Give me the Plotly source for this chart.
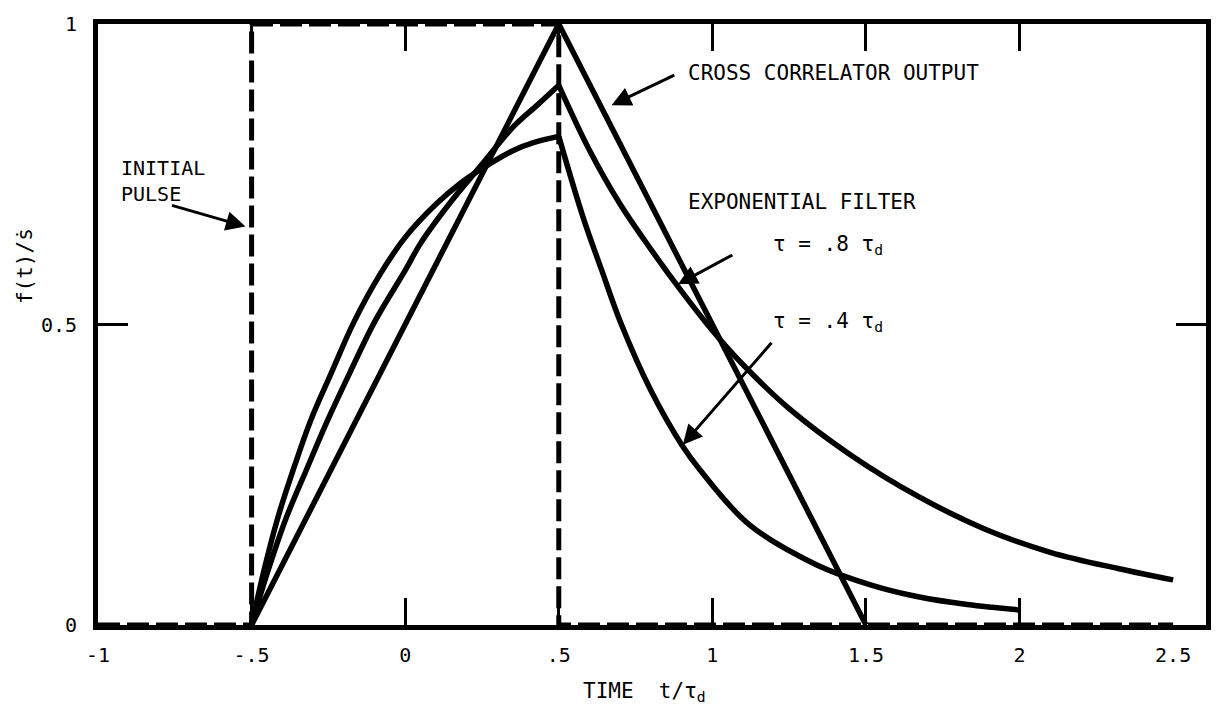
import plotly.graph_objects as go

# --- data -------------------------------------------------------------
# initial rectangular pulse (dashed)
pulse_t = [-1.0, -0.5, -0.5, 0.5, 0.5, 2.5]
pulse_v = [0.0, 0.0, 1.0, 1.0, 0.0, 0.0]

# cross correlator output (triangle)
xcorr_t = [-0.5, 0.5, 1.5]
xcorr_v = [0.0, 1.0, 0.0]

# exponential filter, tau = .8 tau_d
f08_rise_t = [-0.5, -0.45, -0.389, -0.32, -0.253, -0.18, -0.10, 0.0, 0.05, 0.15, 0.246, 0.354, 0.43, 0.5]
f08_rise_v = [0.0, 0.085, 0.176, 0.26, 0.34, 0.42, 0.504, 0.59, 0.635, 0.705, 0.764, 0.83, 0.865, 0.898]
f08_fall_t = [0.5, 0.6, 0.7, 0.8, 0.9, 1.0, 1.1, 1.25, 1.45, 1.67, 1.89, 2.1, 2.32, 2.5]
f08_fall_v = [0.898, 0.79, 0.70, 0.625, 0.555, 0.49, 0.433, 0.36, 0.283, 0.214, 0.159, 0.121, 0.094, 0.075]

# exponential filter, tau = .4 tau_d
f04_rise_t = [-0.5, -0.46, -0.416, -0.36, -0.308, -0.24, -0.167, -0.08, 0.0, 0.1, 0.18, 0.246, 0.354, 0.42, 0.5]
f04_rise_v = [0.0, 0.09, 0.176, 0.265, 0.34, 0.42, 0.504, 0.585, 0.645, 0.70, 0.735, 0.758, 0.79, 0.803, 0.813]
f04_fall_t = [0.5, 0.58, 0.64, 0.7, 0.8, 0.9, 0.96, 1.12, 1.34, 1.52, 1.67, 1.83, 2.0]
f04_fall_v = [0.813, 0.677, 0.59, 0.505, 0.39, 0.30, 0.258, 0.167, 0.10, 0.066, 0.047, 0.034, 0.025]

x_ticks = [-1, -0.5, 0, 0.5, 1, 1.5, 2, 2.5]
x_ticktext = ["-1", "-.5", "0", ".5", "1", "1.5", "2", "2.5"]
x_marks = [-0.5, 0, 0.5, 1, 1.5, 2]
y_ticks = [0, 0.5, 1]
y_ticktext = ["0", "0.5", "1"]

FONT = "DejaVu Sans Mono"
INK = "#000000"

fig = go.Figure()

fig.add_trace(go.Scatter(
    x=pulse_t, y=pulse_v, mode="lines",
    line=dict(color=INK, width=5, dash="22px,7px"),
    showlegend=False, hoverinfo="skip"))

fig.add_trace(go.Scatter(
    x=xcorr_t, y=xcorr_v, mode="lines",
    line=dict(color=INK, width=5.5),
    showlegend=False))

for tt, vv in [(f08_rise_t, f08_rise_v), (f08_fall_t, f08_fall_v),
               (f04_rise_t, f04_rise_v), (f04_fall_t, f04_fall_v)]:
    fig.add_trace(go.Scatter(
        x=tt, y=vv, mode="lines",
        line=dict(color=INK, width=5.5, shape="spline", smoothing=1.0),
        showlegend=False))

# --- labels -----------------------------------------------------------
def label(text, x, y, xref="x", yref="y", xanchor="left", yanchor="middle",
          size=21, angle=0):
    fig.add_annotation(x=x, y=y, xref=xref, yref=yref, text=text,
                       showarrow=False, xanchor=xanchor, yanchor=yanchor,
                       textangle=angle, align="left",
                       font=dict(family=FONT, size=size, color=INK))

def arrow(x_tail, y_tail, x_tip, y_tip):
    fig.add_annotation(x=x_tip, y=y_tip, ax=x_tail, ay=y_tail,
                       xref="x", yref="y", axref="x", ayref="y",
                       text="", showarrow=True, arrowhead=2,
                       arrowsize=1.3, arrowwidth=3, arrowcolor=INK)

label("CROSS CORRELATOR OUTPUT", 0.914, 0.918)
arrow(0.881, 0.916, 0.672, 0.865)

label("EXPONENTIAL FILTER", 0.914, 0.704)
label("τ = .8 τ<sub>d</sub>", 1.19, 0.632)
arrow(1.070, 0.617, 0.888, 0.567)
label("τ = .4 τ<sub>d</sub>", 1.19, 0.505)
arrow(1.197, 0.472, 0.904, 0.30)

label("INITIAL<br>PULSE", -0.933, 0.739, size=20)
arrow(-0.764, 0.699, -0.52, 0.663)

# axis titles
label("TIME  t/τ<sub>d</sub>", 0.572, -0.112, yref="paper")
label("f(t)/ṡ", -0.066, 0.597, xref="paper", xanchor="center", angle=-90)

# --- axes / frame -----------------------------------------------------
fig.update_xaxes(
    range=[-1, 2.607], tickmode="array", tickvals=x_ticks, ticktext=x_ticktext,
    ticks="inside", ticklen=0, showline=True, linewidth=5, linecolor=INK,
    mirror="ticks", showgrid=False, zeroline=False,
    minor=dict(tickmode="array", tickvals=x_marks, ticks="inside",
               ticklen=27, tickwidth=3, tickcolor=INK),
    tickfont=dict(family=FONT, size=20, color=INK), ticklabelstandoff=8)
fig.update_yaxes(
    range=[0, 1], tickmode="array", tickvals=y_ticks, ticktext=y_ticktext,
    ticks="inside", ticklen=30, tickwidth=3, tickcolor=INK,
    showline=True, linewidth=5, linecolor=INK, mirror="ticks",
    showgrid=False, zeroline=False,
    tickfont=dict(family=FONT, size=20, color=INK), ticklabelstandoff=12)

fig.update_layout(
    width=1223, height=715,
    margin=dict(l=98, r=16, t=17, b=90),
    paper_bgcolor="white", plot_bgcolor="white",
    showlegend=False)

fig.write_html("out.html")
